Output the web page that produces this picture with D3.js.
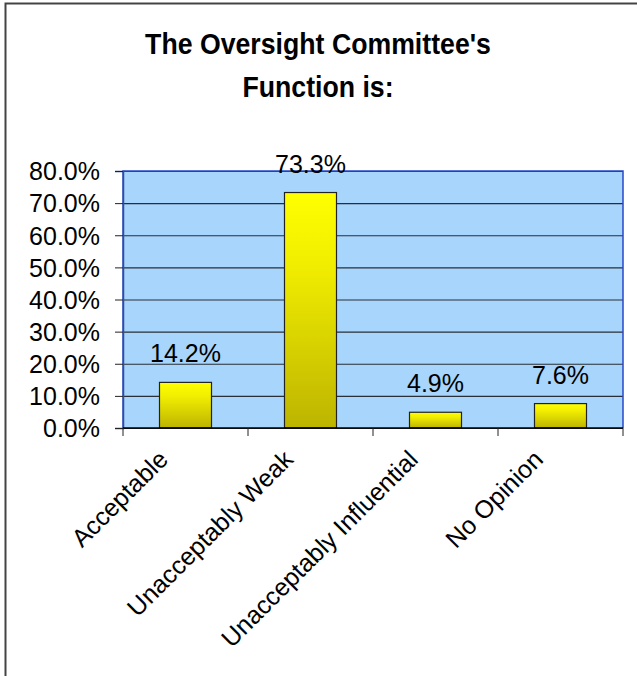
<!DOCTYPE html>
<html>
<head>
<meta charset="utf-8">
<script src="https://cdn.jsdelivr.net/npm/d3@7"></script>
<style>
  body { margin: 0; background: #fff; }
  text { font-family: "Liberation Sans", Arial, sans-serif; fill: #000; }
</style>
</head>
<body>
<div id="chart"></div>
<script>
//////////////////////////////////////////////////////////////
///////////////////////// Data ///////////////////////////////
//////////////////////////////////////////////////////////////

var categories = ["Acceptable", "Unacceptably Weak", "Unacceptably Influential", "No Opinion"];
var values = [0.142, 0.733, 0.049, 0.076];
var yTicks = [0, 0.1, 0.2, 0.3, 0.4, 0.5, 0.6, 0.7, 0.8];
var titleLines = ["The Oversight Committee's", "Function is:"];

//////////////////////////////////////////////////////////////
///////////////////// General settings ///////////////////////
//////////////////////////////////////////////////////////////

var width = 637;
var height = 676;
var plot = {left: 123, right: 623, top: 171, bottom: 428};

var svg = d3.select("#chart").append("svg")
    .attr("width", width)
    .attr("height", height);

//Outer frame (runs off the right and bottom edge)
svg.append("rect")
    .attr("x", 5.5)
    .attr("y", 3.5)
    .attr("width", 700)
    .attr("height", 700)
    .attr("fill", "#fff")
    .attr("stroke", "#444")
    .attr("stroke-width", 2);

//Gradient for the bars
var grad = svg.append("defs").append("linearGradient")
    .attr("id", "barGrad")
    .attr("x1", 0).attr("y1", 0)
    .attr("x2", 0).attr("y2", 1);
grad.append("stop").attr("offset", "0%").attr("stop-color", "#ffff00");
grad.append("stop").attr("offset", "30%").attr("stop-color", "#f2ee00");
grad.append("stop").attr("offset", "100%").attr("stop-color", "#bdb400");

//////////////////////////////////////////////////////////////
///////////////////// Scales & Axes //////////////////////////
//////////////////////////////////////////////////////////////

var xScale = d3.scaleBand()
    .domain(categories)
    .range([plot.left, plot.right])
    .paddingInner(0.584)
    .paddingOuter(0.292);

var yScale = d3.scaleLinear()
    .domain([0, 0.8])
    .range([plot.bottom, plot.top]);

//Plot background
svg.append("rect")
    .attr("x", plot.left)
    .attr("y", plot.top)
    .attr("width", plot.right - plot.left)
    .attr("height", plot.bottom - plot.top)
    .attr("fill", "#a8d5fc");

//Gridlines
svg.append("g")
    .attr("class", "grid")
    .attr("transform", "translate(" + plot.left + ",0)")
    .call(d3.axisLeft(yScale).tickValues(yTicks).tickSize(-(plot.right - plot.left)).tickFormat(""))
    .call(function(g) { g.select(".domain").remove(); })
    .selectAll("line")
        .attr("stroke", "#2a2e36")
        .attr("stroke-width", 1.2);

//Blue plot border (top, right, left)
svg.append("path")
    .attr("d", "M" + plot.left + "," + plot.bottom + "V" + plot.top + "H" + plot.right + "V" + plot.bottom)
    .attr("fill", "none")
    .attr("stroke", "#2848c8")
    .attr("stroke-width", 1.5);

//Y axis
var yAxis = svg.append("g")
    .attr("class", "y axis")
    .attr("transform", "translate(" + plot.left + ",0)")
    .call(d3.axisLeft(yScale).tickValues(yTicks).tickSize(8).tickPadding(15).tickFormat(d3.format(".1%")));

yAxis.select(".domain").attr("stroke", "#34508c").attr("stroke-width", 1.5);
yAxis.selectAll(".tick line").attr("stroke", "#222");
yAxis.selectAll("text")
    .style("font-size", "25px")
    .style("font-family", "'Liberation Sans', Arial, sans-serif")
    .attr("dy", "0.35em");

//Bars
svg.selectAll(".bar")
    .data(values).enter()
    .append("rect")
        .attr("class", "bar")
        .attr("x", function(d, i) { return xScale(categories[i]); })
        .attr("y", function(d) { return yScale(d); })
        .attr("width", xScale.bandwidth())
        .attr("height", function(d) { return yScale(0) - yScale(d); })
        .attr("fill", "url(#barGrad)")
        .attr("stroke", "#222")
        .attr("stroke-width", 1.2);

//Value labels
svg.selectAll(".valueLabel")
    .data(values).enter()
    .append("text")
        .attr("class", "valueLabel")
        .attr("x", function(d, i) { return xScale(categories[i]) + xScale.bandwidth() / 2; })
        .attr("y", function(d) { return yScale(d) - 20; })
        .attr("text-anchor", "middle")
        .style("font-size", "25px")
        .text(function(d) { return d3.format(".1%")(d); });

//X axis line and category boundary ticks
var step = xScale.step();
var bounds = d3.range(categories.length + 1).map(function(i) { return plot.left + i * step; });

svg.append("line")
    .attr("x1", plot.left).attr("x2", plot.right)
    .attr("y1", plot.bottom).attr("y2", plot.bottom)
    .attr("stroke", "#000")
    .attr("stroke-width", 1.5);

svg.selectAll(".xTick")
    .data(bounds).enter()
    .append("line")
        .attr("class", "xTick")
        .attr("x1", function(d) { return d; })
        .attr("x2", function(d) { return d; })
        .attr("y1", plot.bottom)
        .attr("y2", plot.bottom + 8)
        .attr("stroke", "#222");

//Rotated category labels
svg.selectAll(".catLabel")
    .data(categories).enter()
    .append("text")
        .attr("class", "catLabel")
        .attr("transform", function(d) {
            var cx = xScale(d) + xScale.bandwidth() / 2;
            return "translate(" + (cx - 16) + "," + (plot.bottom + 33) + ") rotate(-45)";
        })
        .attr("text-anchor", "end")
        .style("font-size", "25px")
        .text(function(d) { return d; });

//Title (slightly condensed bold face, like the original)
svg.selectAll(".title")
    .data(titleLines).enter()
    .append("text")
        .attr("class", "title")
        .attr("transform", function(d, i) { return "translate(318," + (54 + i * 43) + ") scale(0.92,1)"; })
        .attr("text-anchor", "middle")
        .style("font-weight", "bold")
        .style("font-size", "29px")
        .text(function(d) { return d; });
</script>
</body>
</html>
